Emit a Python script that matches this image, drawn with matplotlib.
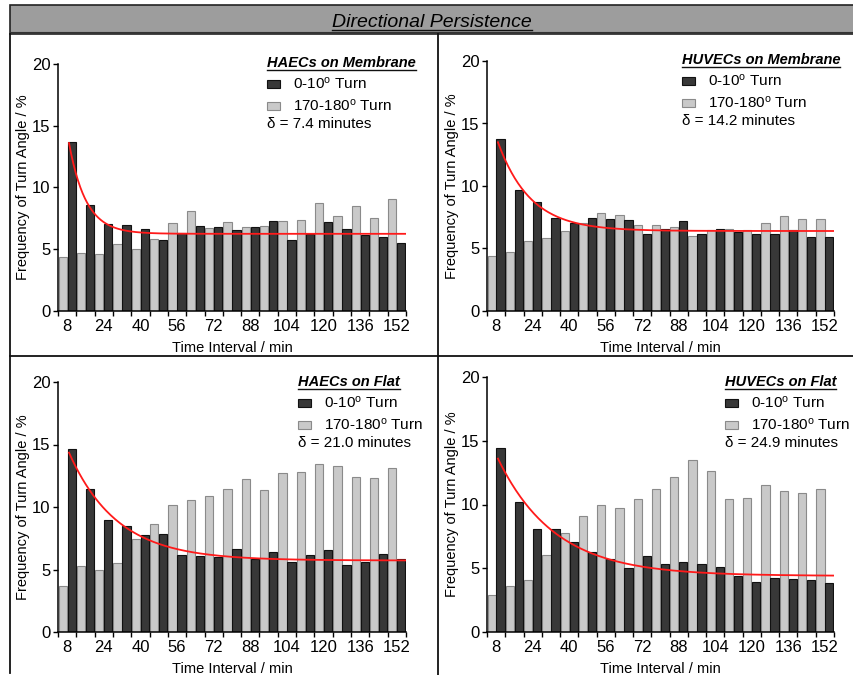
import numpy as np
import matplotlib
matplotlib.use("Agg")
import matplotlib.pyplot as plt
from matplotlib.patches import Rectangle
from matplotlib.lines import Line2D

plt.rcParams['font.family'] = ['Liberation Sans', 'DejaVu Sans']
plt.rcParams['mathtext.fontset'] = 'custom'
plt.rcParams['mathtext.rm'] = 'Liberation Sans'
plt.rcParams['mathtext.it'] = 'Liberation Sans:italic'

# time intervals (min)
times = [8, 16, 24, 32, 40, 48, 56, 64, 72, 80, 88, 96, 104, 112, 120, 128, 136, 144, 152]
tick_times = times[::2]

# 0-10 deg turn frequencies (%)
haec_mem_0 = [13.66, 8.58, 7.04, 6.94, 6.61, 5.78, 6.29, 6.88, 6.83, 6.56,
              6.77, 7.31, 5.78, 6.23, 7.18, 6.61, 6.13, 6.02, 5.48]
huvec_mem_0 = [13.77, 9.69, 8.71, 7.46, 7.03, 7.43, 7.35, 7.24, 6.18, 6.58,
               7.16, 6.15, 6.58, 6.34, 6.18, 6.18, 6.44, 5.91, 5.89]
haec_flat_0 = [14.68, 11.41, 8.94, 8.51, 7.74, 7.82, 6.14, 6.12, 6.04, 6.62,
               5.82, 6.38, 5.59, 6.14, 6.57, 5.37, 5.64, 6.22, 5.88]
huvec_flat_0 = [14.41, 10.2, 8.1, 8.1, 7.08, 6.27, 5.73, 4.99, 5.93, 5.36,
                5.46, 5.36, 5.10, 4.42, 3.90, 4.26, 4.13, 4.05, 3.84]

# 170-180 deg turn frequencies (%)
haec_mem_180 = [4.37, 4.72, 4.62, 5.45, 5.05, 5.80, 7.13, 8.07, 6.69, 7.23,
                6.83, 6.91, 7.29, 7.34, 8.72, 7.69, 8.50, 7.50, 9.04]
huvec_mem_180 = [4.42, 4.74, 5.62, 5.83, 6.42, 7.06, 7.86, 7.67, 6.84, 6.87,
                 6.68, 5.97, 6.47, 6.55, 6.47, 7.03, 7.59, 7.35, 7.32]
haec_flat_180 = [3.67, 5.29, 4.97, 5.56, 7.47, 8.62, 10.13, 10.59, 10.90, 11.46,
                 12.21, 11.33, 12.71, 12.79, 13.48, 13.27, 12.37, 12.29, 13.09]
huvec_flat_180 = [2.93, 3.63, 4.10, 6.01, 7.79, 9.07, 9.96, 9.73, 10.43, 11.24,
                  12.13, 13.46, 12.63, 10.41, 10.51, 11.56, 11.03, 10.93, 11.24]

# exponential fit parameters: start value, plateau, delta (min)
fit_start = [13.6, 13.5, 14.35, 13.6]
fit_plateau = [6.25, 6.4, 5.72, 4.4]
deltas = [7.4, 14.2, 21.0, 24.9]

titles = ["HAECs on Membrane", "HUVECs on Membrane", "HAECs on Flat", "HUVECs on Flat"]
dark = [haec_mem_0, huvec_mem_0, haec_flat_0, huvec_flat_0]
light = [haec_mem_180, huvec_mem_180, haec_flat_180, huvec_flat_180]

W, H = 854, 675
fig = plt.figure(figsize=(W / 100, H / 100), dpi=100)


def fx(x):
    return x / W


def fy(y):
    return 1 - y / H


# axes boxes in pixels: left, right, top, bottom
boxes = [(58, 406, 64, 311), (487, 834, 61, 311),
         (58, 406, 382, 632), (487, 834, 377, 632)]
# legend anchor (left x, title centre y) in pixels
leg = [(267, 62), (682, 59), (298, 381), (725, 381)]

idx = np.arange(len(times))
t_fit = np.linspace(8.8, 156, 300)

title_texts = []
for k in range(4):
    l, r, t, b = boxes[k]
    ax = fig.add_axes([fx(l), fy(b), fx(r - l), (b - t) / H])
    ax.bar(idx - 0.245, light[k], width=0.45, color='#c9c9c9', edgecolor='#8a8a8a', linewidth=0.8)
    ax.bar(idx + 0.245, dark[k], width=0.45, color='#383838', edgecolor='#111111', linewidth=0.8)
    yfit = fit_plateau[k] + (fit_start[k] - fit_plateau[k]) * np.exp(-(t_fit - 8.8) / deltas[k])
    ax.plot((t_fit - 8) / 8, yfit, color='#ff1a1a', lw=1.3)
    ax.set_xlim(-0.5, 18.5)
    ax.set_ylim(0, 20)
    ax.set_yticks([0, 5, 10, 15, 20])
    ax.set_xticks(idx[::2])
    ax.set_xticklabels([str(v) for v in tick_times])
    ax.set_xticks(np.arange(-0.5, 19, 1), minor=True)
    ax.tick_params(axis='x', which='major', length=0, pad=6, labelsize=12)
    ax.tick_params(axis='x', which='minor', length=3.5, width=1)
    ax.tick_params(axis='y', length=3.5, width=1, pad=2, labelsize=12)
    for s in ['top', 'right']:
        ax.spines[s].set_visible(False)
    for s in ['left', 'bottom']:
        ax.spines[s].set_linewidth(1.1)
    ax.set_xlabel("Time Interval / min", fontsize=10.5, labelpad=4.5)
    ax.set_ylabel("Frequency of Turn Angle / %", fontsize=10.5, labelpad=1.5)

    lx, ly = leg[k]
    tt = fig.text(fx(lx), fy(ly + 5), titles[k], fontsize=10.5, fontweight='bold',
                  style='italic', va='baseline', ha='left')
    title_texts.append(tt)
    fig.patches.append(Rectangle((fx(lx), fy(ly + 26)), fx(13), 8 / H, transform=fig.transFigure,
                                 facecolor='#383838', edgecolor='#111111', lw=0.8))
    fig.text(fx(lx + 26), fy(ly + 22), r"0-10$^\mathregular{o}$ Turn", fontsize=11, va='center')
    fig.patches.append(Rectangle((fx(lx), fy(ly + 48)), fx(13), 8 / H, transform=fig.transFigure,
                                 facecolor='#c9c9c9', edgecolor='#8a8a8a', lw=0.8))
    fig.text(fx(lx + 26), fy(ly + 44), r"170-180$^\mathregular{o}$ Turn", fontsize=11, va='center')
    fig.text(fx(lx), fy(ly + 62), "\u03b4 = %.1f minutes" % deltas[k], fontsize=11, va='center')

# header band and frame
fig.patches.append(Rectangle((fx(10), fy(34)), 1 - fx(10), 29 / H, transform=fig.transFigure,
                             facecolor='#9d9d9d', edgecolor='#222222', lw=1.2))
fig.add_artist(Line2D([fx(10), 1], [fy(31.5), fy(31.5)], color='#333333', lw=0.8))
head = fig.text(fx(432), fy(27), "Directional Persistence", fontsize=14, style='italic',
                ha='center', va='baseline')
title_texts.append(head)
fig.add_artist(Line2D([fx(10), fx(10)], [fy(34), fy(673)], color='#111111', lw=1.3))
fig.add_artist(Line2D([fx(438), fx(438)], [fy(34), fy(675)], color='#111111', lw=1.3))
fig.add_artist(Line2D([fx(10), 1], [fy(356), fy(356)], color='#111111', lw=1.3))

# underline titles
fig.canvas.draw()
rend = fig.canvas.get_renderer()
for tt in title_texts:
    bb = tt.get_window_extent(rend)
    x0, x1 = bb.x0 / W, bb.x1 / W
    yb = tt.get_position()[1] - 2.5 / H
    fig.add_artist(Line2D([x0, x1], [yb, yb], color='#111111', lw=1.0))

fig.savefig("out.png", dpi=100)
